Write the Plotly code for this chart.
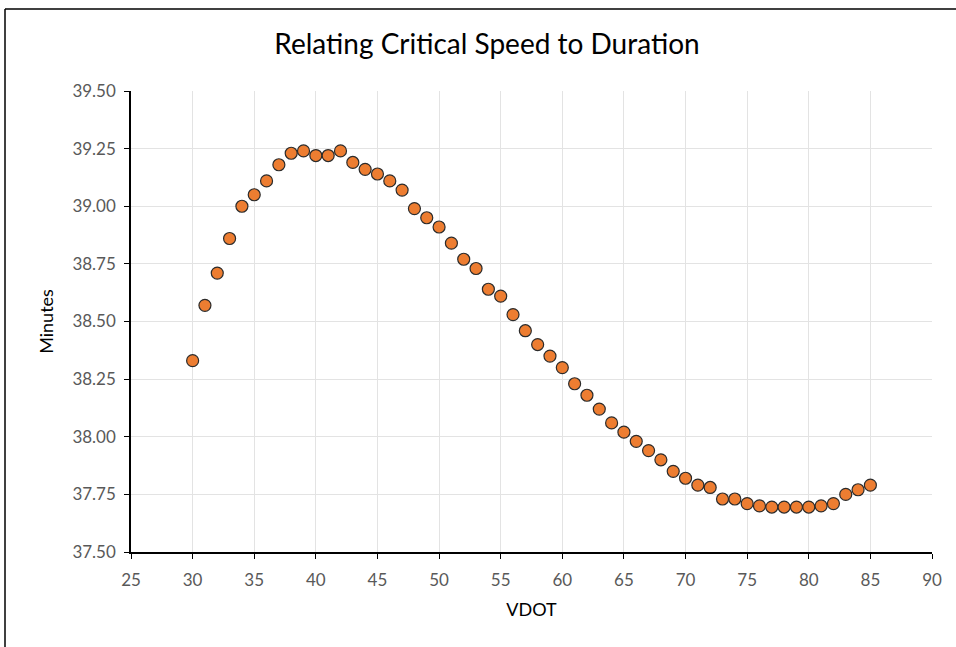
import plotly.graph_objects as go

vdot = list(range(30, 86))
minutes = [
    38.33, 38.57, 38.71, 38.86, 39.00, 39.05, 39.11, 39.18, 39.23, 39.24,
    39.22, 39.22, 39.24, 39.19, 39.16, 39.14, 39.11, 39.07, 38.99, 38.95,
    38.91, 38.84, 38.77, 38.73, 38.64, 38.61, 38.53, 38.46, 38.40, 38.35,
    38.30, 38.23, 38.18, 38.12, 38.06, 38.02, 37.98, 37.94, 37.90, 37.85,
    37.82, 37.79, 37.78, 37.73, 37.73, 37.71, 37.70, 37.695, 37.695, 37.695,
    37.695, 37.70, 37.71, 37.75, 37.77, 37.79,
]

W, H = 956, 647
L, R, T, B = 131, 932, 91, 552
FONT = "Lato, Open Sans, sans-serif"

fig = go.Figure(go.Scatter(
    x=vdot, y=minutes, mode="markers",
    marker=dict(size=12, color="#ED7D31", line=dict(color="#2b2b2b", width=1.2)),
    showlegend=False,
))

tickfont = dict(family=FONT, size=17, color="#595959")
fig.update_layout(
    width=W, height=H,
    margin=dict(l=L, r=W - R, t=T, b=H - B),
    paper_bgcolor="white", plot_bgcolor="white",
    title=dict(text="Relating Critical Speed to Duration",
               font=dict(family=FONT, size=28, color="black"),
               x=487 / W, xref="container", xanchor="center",
               y=1 - 44 / H, yref="container", yanchor="middle"),
    xaxis=dict(range=[25, 90], dtick=5, tick0=25, showgrid=True, gridcolor="#E3E3E3",
               gridwidth=1, showline=True, linecolor="black", linewidth=1.5,
               ticks="outside", ticklen=5, tickcolor="black", tickfont=tickfont,
               ticklabelstandoff=7, zeroline=False,
               title=dict(text="VDOT", font=dict(family=FONT, size=18, color="black"), standoff=14)),
    yaxis=dict(range=[37.5, 39.5], dtick=0.25, tick0=37.5, tickformat=".2f",
               showgrid=True, gridcolor="#E3E3E3", gridwidth=1, showline=True,
               linecolor="black", linewidth=1.5, ticks="outside", ticklen=5,
               tickcolor="black", tickfont=tickfont, ticklabelstandoff=5, zeroline=False,
               title=dict(text="Minutes", font=dict(family=FONT, size=18, color="black"), standoff=14)),
)

pw, ph = R - L, B - T
def px_x(p): return (p - L) / pw
def px_y(p): return (B - p) / ph

fig.add_shape(type="line", xref="paper", yref="paper",
              x0=px_x(5), x1=px_x(5), y0=px_y(9), y1=px_y(H + 5),
              line=dict(color="black", width=1.5))
fig.add_shape(type="line", xref="paper", yref="paper",
              x0=px_x(5), x1=px_x(W + 5), y0=px_y(9), y1=px_y(9),
              line=dict(color="black", width=1.5))

fig.write_html("out.html", config={"displayModeBar": False},
               post_script="document.body.style.margin='0px';document.body.style.overflow='hidden';")
